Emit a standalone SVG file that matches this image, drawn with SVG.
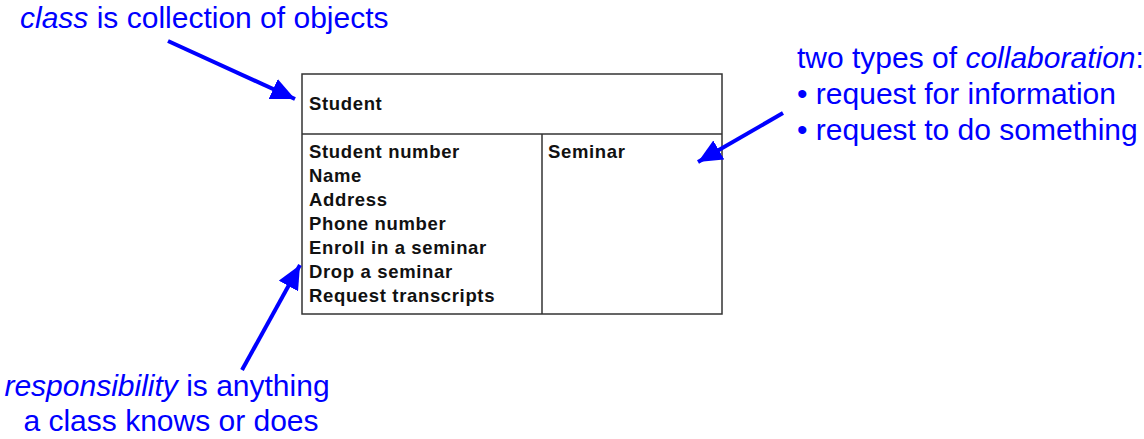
<svg xmlns="http://www.w3.org/2000/svg" width="1144" height="439" viewBox="0 0 1144 439">
<defs>
<style>
.note{font-family:"Liberation Sans",Arial,sans-serif;font-size:30px;fill:#0000ff}
.card{font-family:"Liberation Sans",Arial,sans-serif;font-size:18.5px;letter-spacing:0.65px;font-weight:bold;fill:#111}
.box{fill:#fff;stroke:#333;stroke-width:1.5}
.arrow{stroke:#0000ff;stroke-width:4;fill:none;marker-end:url(#ah)}
</style>
<marker id="ah" markerUnits="userSpaceOnUse" markerWidth="26" markerHeight="22" refX="24" refY="11" orient="auto">
<path d="M0,0 L24,11 L0,22 Z" fill="#0000ff"/>
</marker>
</defs>
<rect width="1144" height="439" fill="#fff"/>
<g id="crc-card">
<rect class="box" x="302" y="74" width="420" height="240"/>
<line x1="302" y1="134" x2="722" y2="134" stroke="#333" stroke-width="1.5"/>
<line x1="542" y1="134" x2="542" y2="314" stroke="#333" stroke-width="1.5"/>
<text class="card" x="309" y="110">Student</text>
<text class="card" x="309" y="158">Student number</text>
<text class="card" x="309" y="182">Name</text>
<text class="card" x="309" y="206">Address</text>
<text class="card" x="309" y="230">Phone number</text>
<text class="card" x="309" y="254">Enroll in a seminar</text>
<text class="card" x="309" y="278">Drop a seminar</text>
<text class="card" x="309" y="302">Request transcripts</text>
<text class="card" x="548" y="158">Seminar</text>
</g>
<g id="note-class">
<text class="note" x="20" y="28"><tspan font-style="italic">class</tspan> is collection of objects</text>
</g>
<g id="note-collaboration">
<text class="note" x="797" y="68">two types of <tspan font-style="italic">collaboration</tspan>:</text>
<text class="note" x="797" y="104">• request for information</text>
<text class="note" x="797" y="140">• request to do something</text>
</g>
<g id="note-responsibility">
<text class="note" x="167" y="396" text-anchor="middle"><tspan font-style="italic">responsibility</tspan> is anything</text>
<text class="note" x="171" y="431" text-anchor="middle">a class knows or does</text>
</g>
<g id="connectors">
<line class="arrow" x1="168" y1="41" x2="295" y2="99"/>
<line class="arrow" x1="783" y1="113" x2="698" y2="162"/>
<line class="arrow" x1="242" y1="370" x2="300" y2="265"/>
</g>
</svg>
